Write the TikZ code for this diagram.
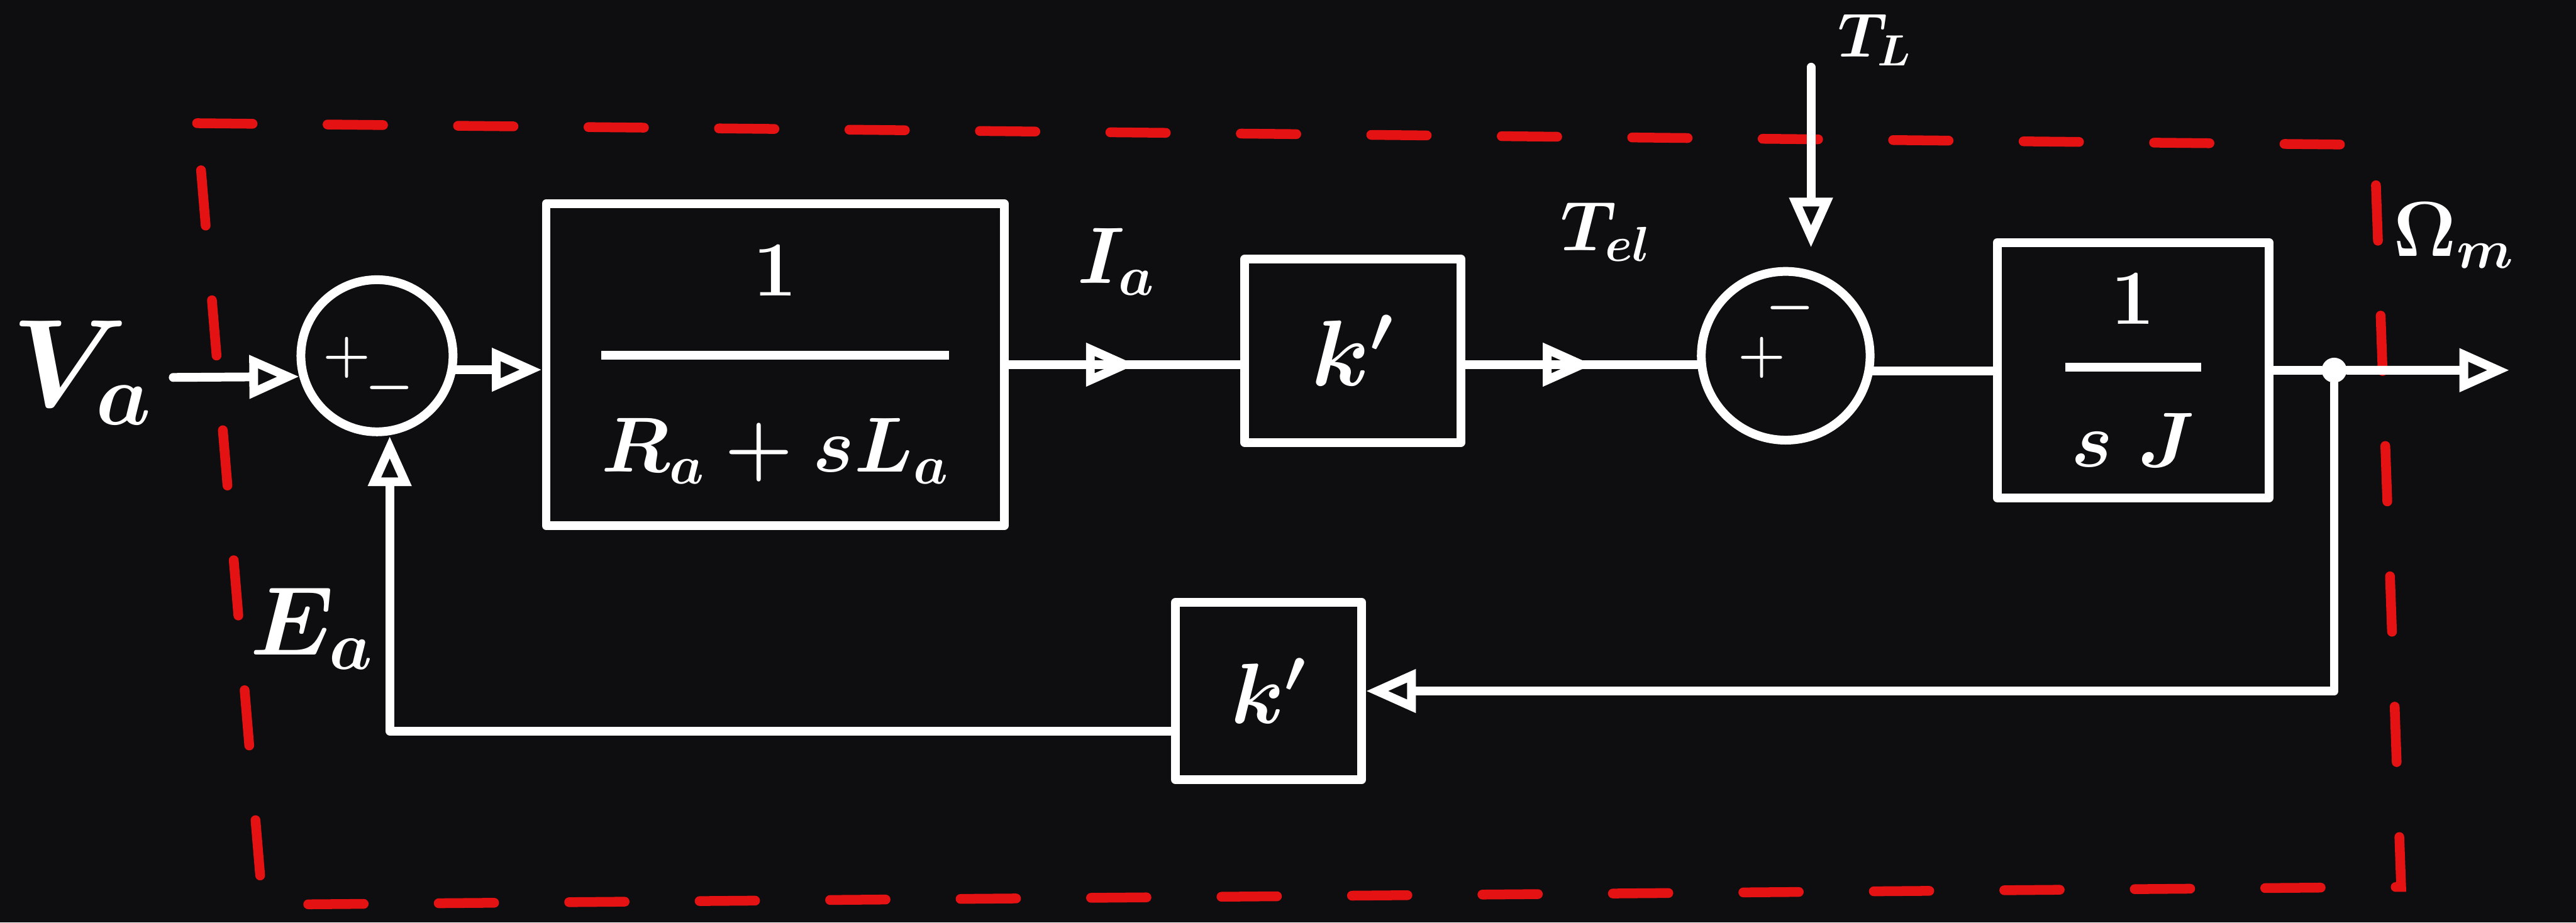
\RequirePackage{fix-cm}
\documentclass[tikz,border=0pt]{standalone}
\usepackage{tikz}
\usetikzlibrary{arrows.meta, positioning, decorations.markings}
\definecolor{board}{RGB}{14,14,16}
\definecolor{chalkred}{RGB}{228,18,18}

\begin{document}
\begin{tikzpicture}[
        chalk/.style={draw=white, line width=4.5pt, line cap=round, line join=round},
        block/.style={chalk, rectangle, inner sep=0pt, text=white, font=\boldmath\fontsize{40}{48}\selectfont},
        sumnode/.style={chalk, circle, inner sep=0pt},
        sign/.style={text=white, inner sep=0pt, font=\boldmath\fontsize{28}{30}\selectfont},
        lbl/.style={text=white, inner sep=0pt, anchor=base west},
        arrow/.style={chalk, -{Triangle[open, length=0.9cm, width=0.75cm]}},
        midarrow/.style={chalk, decoration={markings, mark=at position 0.55 with {\arrow{Triangle[open, length=0.9cm, width=0.75cm]}}}, postaction={decorate}},
        boundary/.style={draw=chalkred, line width=5pt, line cap=round, dash pattern=on 1cm off 1.35cm}
    ]
        % board
        \fill[board] (0,0) rectangle (46.4,16.62);
        \useasboundingbox (0,0) rectangle (46.4,16.62);

        % motor boundary
        \draw[boundary] (3.55,14.40) -- (42.77,14.01) -- (43.25,0.64) -- (4.73,0.32) -- cycle;

        % forward path
        \node[sumnode, minimum size=2.74cm] (sum1) at (6.79,10.21) {};
        \node[block, minimum width=8.25cm, minimum height=5.8cm, right=1.52cm of sum1, yshift=-0.16cm] (elec)
            {$\displaystyle{\makebox[6.1cm]{$1$\rule[-0.37em]{0pt}{0.37em}} \above 4.5pt \rule{0pt}{1.1em}R_a+sL_a}$};
        \node[block, minimum width=3.9cm, minimum height=3.3cm, right=4.17cm of elec, yshift=0.25cm, font=\boldmath\fontsize{48}{54}\selectfont] (kt) {$k'$};
        \node[sumnode, minimum size=3.04cm, right=4.17cm of kt, yshift=-0.09cm] (sum2) {};
        \node[block, minimum width=4.9cm, minimum height=4.6cm, right=2.13cm of sum2, yshift=-0.26cm] (mech)
            {$\displaystyle{\makebox[2.45cm]{$1$\rule[-0.16em]{0pt}{0.16em}} \above 4.5pt \rule{0pt}{0.88em}s\;J}$};
        \node[circle, fill=white, inner sep=0pt, minimum size=0.45cm, right=0.86cm of mech] (dot) {};
        \coordinate (out) at (45.2,9.95);

        % feedback path
        \node[block, minimum width=3.35cm, minimum height=3.2cm, font=\boldmath\fontsize{44}{50}\selectfont] (ke) at (22.85,4.17) {$k'$};
        \coordinate (ea) at (7.02,3.45);
        \coordinate (vin) at (3.12,9.82);
        \coordinate (tl) at (32.62,15.41);

        % signs
        \node[sign, xshift=-0.54cm, yshift=-0.03cm] at (sum1) {$+$};
        \node[sign, xshift=0.23cm, yshift=-0.58cm] at (sum1) {$-$};
        \node[sign, xshift=0.08cm, yshift=0.86cm] at (sum2) {$-$};
        \node[sign, xshift=-0.43cm, yshift=-0.03cm] at (sum2) {$+$};

        % signal labels
        \node[lbl, font=\boldmath\fontsize{64}{68}\selectfont] (va) at (0.2,9.3) {$V_a$};
        \node[lbl, font=\boldmath\fontsize{50}{54}\selectfont] (ealbl) at (4.5,4.82) {$E_a$};
        \node[lbl, font=\boldmath\fontsize{41}{44}\selectfont] (ia) at (19.4,11.52) {$I_a$};
        \node[lbl, font=\boldmath\fontsize{36}{40}\selectfont] (tel) at (28.1,12.1) {$T_{el}$};
        \node[lbl, font=\boldmath\fontsize{32}{36}\selectfont] (tload) at (33.1,15.6) {$T_L$};
        \node[lbl, font=\boldmath\fontsize{40}{44}\selectfont] (wm) at (43.1,12.0) {$\Omega_m$};

        % connectors
        \draw[arrow] (vin) -- (sum1.195);
        \draw[arrow] (sum1.-10) -- (sum1.-10 -| elec.west);
        \draw[midarrow] (elec.east) -- (elec.east -| kt.west);
        \draw[midarrow] (elec.east -| kt.east) -- (elec.east -| sum2.west);
        \draw[arrow, shorten >=0.35cm] (tl) -- (tl |- sum2.north);
        \draw[chalk] (sum2.-10) -- (sum2.-10 -| mech.west);
        \draw[chalk] (mech) -- (dot);
        \draw[arrow] (dot) -- (out);
        \draw[arrow] (dot) -- (dot |- ke) -- (ke);
        \draw[arrow] (ke.west |- ea) -- (ea) -- (ea |- sum1.south);
    \end{tikzpicture}
\end{document}
